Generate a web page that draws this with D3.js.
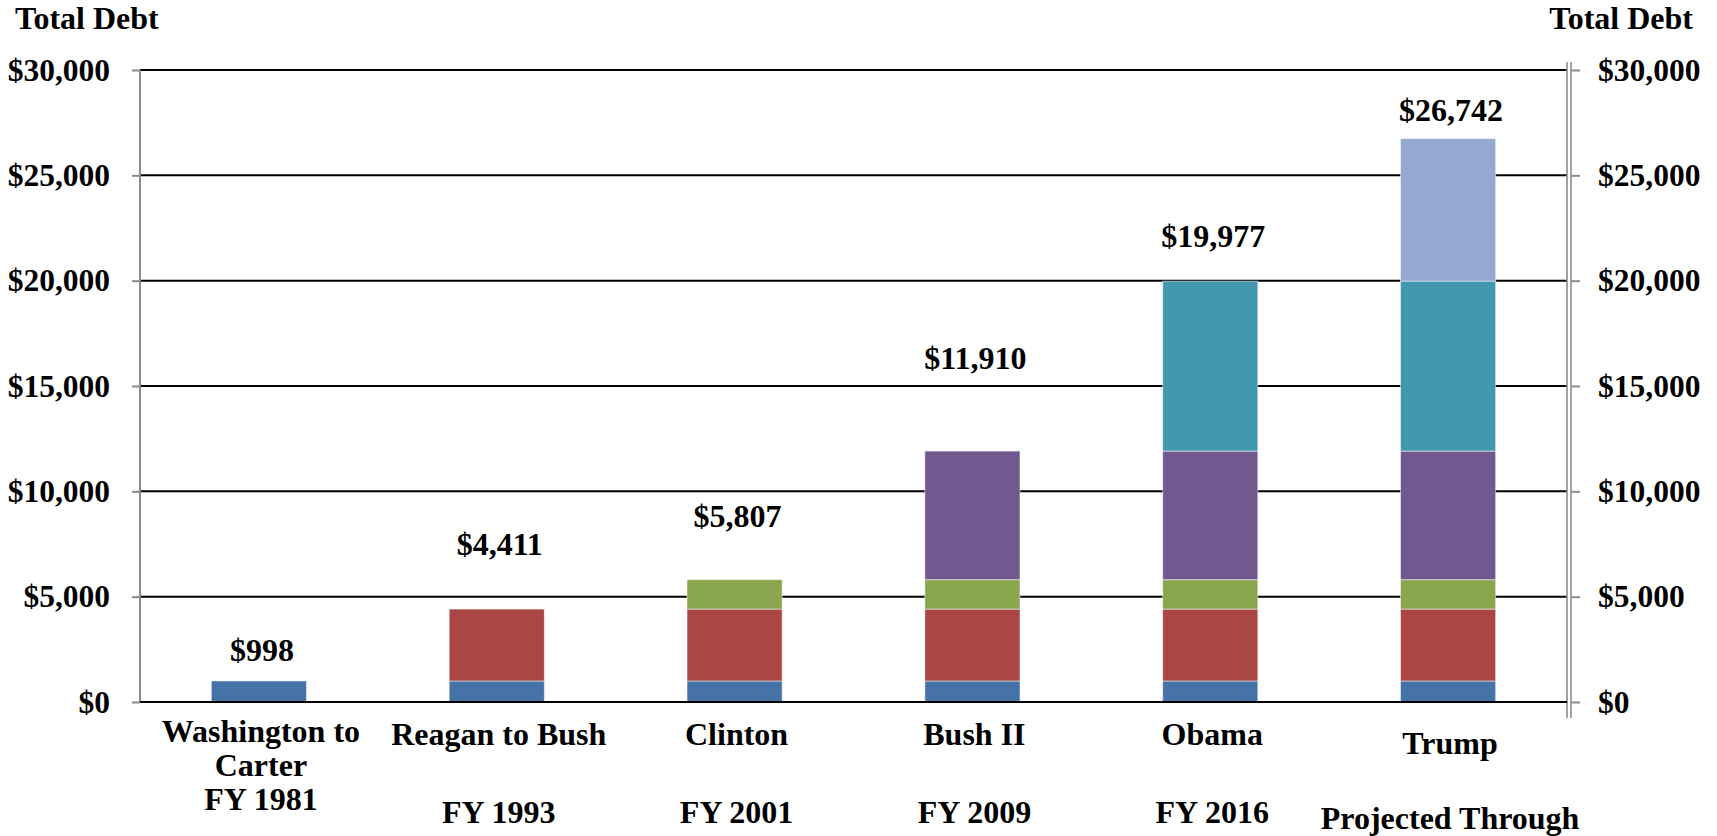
<!DOCTYPE html>
<html>
<head>
<meta charset="utf-8">
<script src="https://cdn.jsdelivr.net/npm/d3@7"></script>
<style>
  html, body { margin: 0; padding: 0; background: #fff; }
  svg { display: block; font-family: "Liberation Serif", "Times New Roman", serif; font-weight: bold; }
</style>
</head>
<body>
<svg id="chart" width="1717" height="836"></svg>
<script>
// Federal debt by administration, billions of dollars
const categories = ["Washington to Carter", "Reagan to Bush", "Clinton", "Bush II", "Obama", "Trump"];
const periodLabels = [
  ["Washington to", "Carter", "FY 1981"],
  ["Reagan to Bush", "", "FY 1993"],
  ["Clinton", "", "FY 2001"],
  ["Bush II", "", "FY 2009"],
  ["Obama", "", "FY 2016"],
  ["Trump", "", "Projected Through"]
];
// debt added during each era (stacked segment sizes)
const eraAdditions = [998, 3413, 1396, 6103, 8067, 6765];
// cumulative total debt at end of each era
const totals = [998, 4411, 5807, 11910, 19977, 26742];
const yTicks = [0, 5000, 10000, 15000, 20000, 25000, 30000];
const segmentColors = ["#4572A7", "#AA4643", "#89A54E", "#71588F", "#4198AF", "#93A9CF"];

// layout
const plotLeft = 140, plotRight = 1567, plotTop = 70, plotBottom = 702;
const labelLift = [31, 65, 64, 93, 45, 29];
const tickFirstLine = [731, 734, 734, 734, 734, 743];
const tickLineStep = [34, 39, 39, 39, 39, 37.5];
const fontSize = 32;
const tickFontSize = 31.5;

const svg = d3.select("#chart");

const x = d3.scaleBand().domain(categories).range([plotLeft, plotRight]).paddingInner(0.6).paddingOuter(0.3);
const y = d3.scaleLinear().domain([0, 30000]).range([plotBottom, plotTop]);

// build stacked rows: category i contains eras 0..i
const eraKeys = eraAdditions.map((_, j) => "era" + j);
const rows = categories.map((c, i) => {
  const r = { category: c };
  eraAdditions.forEach((v, j) => { r[eraKeys[j]] = j <= i ? v : 0; });
  return r;
});
const stacked = d3.stack().keys(eraKeys)(rows);

// gridlines
svg.append("g")
  .selectAll("line")
  .data(yTicks.filter(d => d > 0))
  .join("line")
  .attr("x1", plotLeft).attr("x2", plotRight)
  .attr("y1", d => y(d)).attr("y2", d => y(d))
  .attr("stroke", "#000").attr("stroke-width", 2);

// bars
svg.append("g")
  .selectAll("g")
  .data(stacked)
  .join("g")
  .attr("fill", (d, j) => segmentColors[j])
  .selectAll("rect")
  .data(d => d.filter(s => s[1] > s[0]))
  .join("rect")
  .attr("x", d => x(d.data.category))
  .attr("width", x.bandwidth())
  .attr("y", d => y(d[1]))
  .attr("height", d => y(d[0]) - y(d[1]))
  .attr("stroke", "rgba(255,255,255,0.5)")
  .attr("stroke-width", 1);

const money = d => "$" + d3.format(",")(d);

// left axis
const leftAxis = svg.append("g")
  .attr("transform", `translate(${plotLeft},0)`)
  .call(d3.axisLeft(y).tickValues(yTicks).tickSize(8).tickPadding(22).tickFormat(money));
leftAxis.select(".domain").remove();
leftAxis.selectAll(".tick line").attr("stroke", "#8c8c8c").attr("stroke-width", 2);
leftAxis.selectAll("text").attr("font-size", tickFontSize).attr("font-family", "Liberation Serif").attr("font-weight", "bold").attr("fill", "#000");
leftAxis.append("line").attr("x1", 0).attr("x2", 0).attr("y1", plotTop).attr("y2", plotBottom)
  .attr("stroke", "#8c8c8c").attr("stroke-width", 2);

// right axis (double rule)
const rightAxis = svg.append("g")
  .attr("transform", `translate(${plotRight + 4},0)`)
  .call(d3.axisRight(y).tickValues(yTicks).tickSize(9).tickPadding(18).tickFormat(money));
rightAxis.select(".domain").remove();
rightAxis.selectAll(".tick line").attr("stroke", "#8c8c8c").attr("stroke-width", 2);
rightAxis.selectAll("text").attr("font-size", tickFontSize).attr("font-family", "Liberation Serif").attr("font-weight", "bold").attr("fill", "#000");
[-4, 0].forEach(dx => {
  rightAxis.append("line").attr("x1", dx).attr("x2", dx).attr("y1", plotTop - 8).attr("y2", plotBottom + 16)
    .attr("stroke", "#8c8c8c").attr("stroke-width", 1.6);
});

// baseline
svg.append("line")
  .attr("x1", plotLeft).attr("x2", plotRight)
  .attr("y1", y(0)).attr("y2", y(0))
  .attr("stroke", "#000").attr("stroke-width", 2);

// category labels
const catG = svg.append("g")
  .attr("font-size", fontSize)
  .attr("text-anchor", "middle")
  .attr("fill", "#000");
categories.forEach((c, i) => {
  const cx = x(c) + x.bandwidth() / 2 + 2;
  periodLabels[i].forEach((line, k) => {
    if (!line) return;
    catG.append("text")
      .attr("x", cx)
      .attr("y", tickFirstLine[i] + k * tickLineStep[i])
      .attr("dy", "0.35em")
      .text(line);
  });
});

// total labels
svg.append("g")
  .attr("font-size", fontSize)
  .attr("text-anchor", "middle")
  .selectAll("text")
  .data(totals)
  .join("text")
  .attr("x", (d, i) => x(categories[i]) + x.bandwidth() / 2 + 3)
  .attr("y", (d, i) => y(d) - labelLift[i])
  .attr("dy", "0.35em")
  .text(money);

// axis titles
svg.append("text").attr("x", 15).attr("y", 29).attr("font-size", fontSize).text("Total Debt");
svg.append("text").attr("x", 1693).attr("y", 29).attr("font-size", fontSize).attr("text-anchor", "end").text("Total Debt");
</script>
</body>
</html>
